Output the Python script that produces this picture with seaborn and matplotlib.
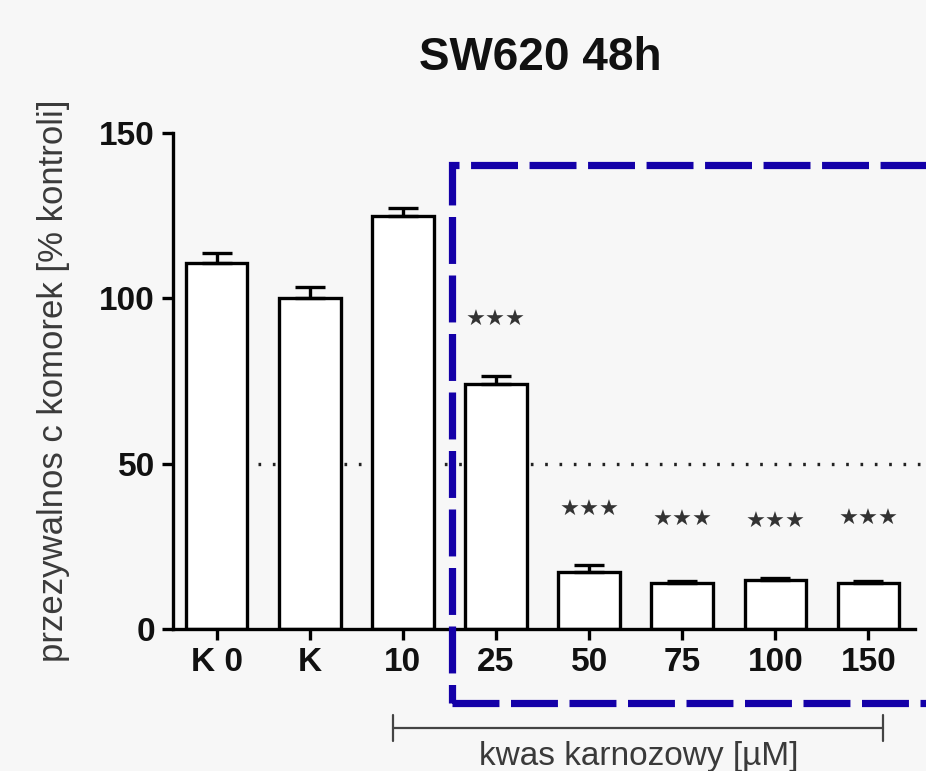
import numpy as np
import pandas as pd
import seaborn as sns
import matplotlib.pyplot as plt
from matplotlib.patches import Rectangle

groups = ['K 0', 'K', '10', '25', '50', '75', '100', '150']
means = [110.7, 100.0, 124.9, 74.0, 17.2, 13.9, 14.8, 13.9]
errs = [3.0, 3.4, 2.4, 2.5, 2.2, 0.6, 0.6, 0.6]
star_y = [None, None, None, 93.4, 36.0, 33.0, 32.4, 33.3]

sns.set_theme(style='ticks')
plt.rcParams['font.family'] = ['Liberation Sans', 'DejaVu Sans']

df = pd.DataFrame({'grupa': groups, 'wartosc': means})

fig = plt.figure(figsize=(9.26, 7.71), dpi=100, facecolor='#f7f7f7')
ax = fig.add_axes([0.1868, 0.1842, 0.8012, 0.6433])
ax.set_facecolor('#f7f7f7')

# dotted 50% line behind the bars
ax.plot([0.44, 7.56], [50, 50], ls=(0, (0.8, 3.5)), color='#222222', lw=2.4,
        zorder=1, clip_on=False)

sns.barplot(data=df, x='grupa', y='wartosc', ax=ax, color='white',
            edgecolor='black', linewidth=2.4, width=0.66, zorder=2)
ax.errorbar(np.arange(len(groups)), means,
            yerr=[np.zeros(len(groups)), errs], fmt='none', ecolor='black',
            elinewidth=2.4, capsize=11, capthick=2.4, zorder=3)

for i, y in enumerate(star_y):
    if y is not None:
        ax.text(i, y, '★★★', ha='center', va='center', fontsize=16,
                color='#333333', family=['DejaVu Sans'])

ax.set_xlim(-0.47, 7.5)
ax.set_ylim(0, 150)
ax.set_yticks([0, 50, 100, 150])
ax.set_xlabel('')
ax.set_ylabel('przezywalnos c komorek [% kontroli]', fontsize=25,
              color='#3a3a3a')
ax.yaxis.set_label_coords(-0.139, 0.5)
sns.despine(ax=ax)
for s in ['left', 'bottom']:
    ax.spines[s].set_linewidth(2.4)
    ax.spines[s].set_color('black')
ax.tick_params(axis='both', direction='out', length=8, width=2.4,
               colors='black', labelsize=24, pad=5)
for lab in ax.get_xticklabels() + ax.get_yticklabels():
    lab.set_fontweight('bold')
    lab.set_color('#111111')

fig.text(540 / 926, 1 - 58 / 771, 'SW620 48h', ha='center', va='center',
         fontsize=33, fontweight='bold', color='#111111')

# bracket under the treated groups
by = -30.0
ax.plot([1.89, 7.16], [by, by], color='#444444', lw=1.6, clip_on=False)
for x0 in [1.89, 7.16]:
    ax.plot([x0, x0], [by - 4.0, by + 4.0], color='#444444', lw=1.6,
            clip_on=False)
ax.text(4.53, -38.5, 'kwas karnozowy [µM]', ha='center', va='center',
        fontsize=24, color='#3a3a3a', clip_on=False)

# blue dashed frame
rect = Rectangle((2.53, -22.4), 6.0, 162.7, fill=False, edgecolor='#1400a8',
                 lw=5.2, ls=(0, (6.5, 1.6)), clip_on=False, zorder=5)
ax.add_patch(rect)

fig.savefig('out.png', dpi=100, facecolor=fig.get_facecolor())
